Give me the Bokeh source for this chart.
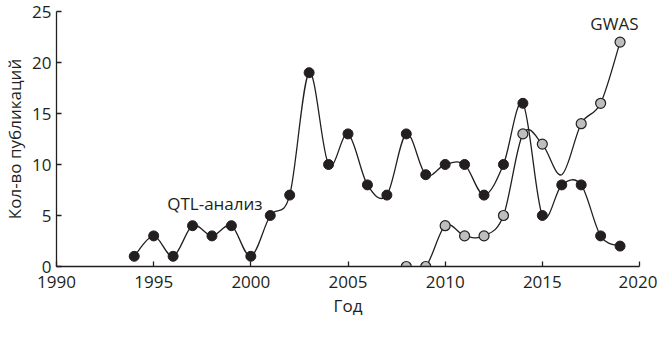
from bokeh.plotting import figure
from bokeh.models import FixedTicker, Range1d, Label
from bokeh.embed import file_html
from bokeh.resources import INLINE

# ---- data ----
qtl_years = [1994, 1995, 1996, 1997, 1998, 1999, 2000, 2001, 2002, 2003, 2004, 2005, 2006,
             2007, 2008, 2009, 2010, 2011, 2012, 2013, 2014, 2015, 2016, 2017, 2018, 2019]
qtl_counts = [1, 3, 1, 4, 3, 4, 1, 5, 7, 19, 10, 13, 8,
              7, 13, 9, 10, 10, 7, 10, 16, 5, 8, 8, 3, 2]

gwas_years = [2008, 2009, 2010, 2011, 2012, 2013, 2014, 2015, 2016, 2017, 2018, 2019]
gwas_counts = [0, 0, 4, 3, 3, 5, 13, 12, 9, 14, 16, 22]
gwas_marked = [True, True, True, True, True, True, True, True, False, True, True, True]

x_ticks = [1990, 1995, 2000, 2005, 2010, 2015, 2020]
y_ticks = [0, 5, 10, 15, 20, 25]

INK = "#231f20"
GRAY = "#bcbec0"
FONT = "Open Sans"
FS = "17px"


def smooth_segments(xs, ys):
    """Cubic Bezier control points (Catmull-Rom style smoothing)."""
    n = len(xs)
    seg = dict(x0=[], y0=[], x1=[], y1=[], cx0=[], cy0=[], cx1=[], cy1=[])
    for i in range(n - 1):
        xp, yp = (xs[i - 1], ys[i - 1]) if i > 0 else (xs[i], ys[i])
        xn, yn = (xs[i + 2], ys[i + 2]) if i + 2 < n else (xs[i + 1], ys[i + 1])
        seg["x0"].append(xs[i]); seg["y0"].append(ys[i])
        seg["x1"].append(xs[i + 1]); seg["y1"].append(ys[i + 1])
        seg["cx0"].append(xs[i] + (xs[i + 1] - xp) / 6)
        seg["cy0"].append(ys[i] + (ys[i + 1] - yp) / 6)
        seg["cx1"].append(xs[i + 1] - (xn - xs[i]) / 6)
        seg["cy1"].append(ys[i + 1] - (yn - ys[i]) / 6)
    return seg


p = figure(frame_width=583, frame_height=255, output_backend="svg", toolbar_location=None,
           x_range=Range1d(1990, 2020), y_range=Range1d(0, 25),
           min_border_left=53, min_border_right=18, min_border_top=11, min_border_bottom=10)
p.outline_line_color = None
p.xgrid.visible = False
p.ygrid.visible = False
p.background_fill_color = "white"

for ax in (p.xaxis, p.yaxis):
    ax.axis_line_color = INK
    ax.axis_line_width = 1.3
    ax.major_tick_line_color = INK
    ax.major_tick_line_width = 1.3
    ax.major_tick_in = 5
    ax.major_tick_out = 0
    ax.minor_tick_line_color = None
    ax.major_label_text_font = FONT
    ax.major_label_text_font_size = FS
    ax.major_label_text_color = INK
    ax.axis_label_text_font = FONT
    ax.axis_label_text_font_size = FS
    ax.axis_label_text_font_style = "normal"
    ax.axis_label_text_color = INK

p.xaxis.ticker = FixedTicker(ticks=x_ticks)
p.yaxis.ticker = FixedTicker(ticks=y_ticks)
p.xaxis.axis_label = "Год"
p.yaxis.axis_label = "Кол-во публикаций"
p.xaxis.major_label_standoff = 9
p.xaxis.axis_label_standoff = 3
p.yaxis.major_label_standoff = 5
p.yaxis.axis_label_standoff = 3

# smooth lines
p.bezier(line_color=INK, line_width=1.3, **smooth_segments(qtl_years, qtl_counts))
p.bezier(line_color=INK, line_width=1.3, **smooth_segments(gwas_years, gwas_counts))

# markers
p.scatter(qtl_years, qtl_counts, size=10, fill_color=INK, line_color=INK, line_width=1)
gx = [x for x, m in zip(gwas_years, gwas_marked) if m]
gy = [y for y, m in zip(gwas_counts, gwas_marked) if m]
p.scatter(gx, gy, size=10, fill_color=GRAY, line_color=INK, line_width=1.2)

p.add_layout(Label(x=2020, y=23.8, x_offset=-1, text="GWAS", text_align="right", text_baseline="middle",
                   text_font=FONT, text_font_size=FS, text_color=INK))
p.add_layout(Label(x=1998.15, y=6.2, text="QTL-анализ", text_align="center", text_baseline="middle",
                   text_font=FONT, text_font_size=FS, text_color=INK))

open("out.html", "w").write(file_html(p, INLINE))
